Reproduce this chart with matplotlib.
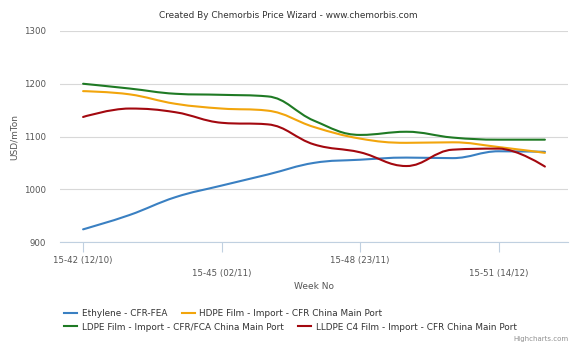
import matplotlib
matplotlib.use('Agg')
import matplotlib.pyplot as plt
from matplotlib.lines import Line2D
from matplotlib.path import Path
from matplotlib.patches import PathPatch

weeks = ['15-42 (12/10)', '15-43 (19/10)', '15-44 (26/10)', '15-45 (02/11)',
         '15-46 (09/11)', '15-47 (16/11)', '15-48 (23/11)', '15-49 (30/11)',
         '15-50 (07/12)', '15-51 (14/12)', '15-52 (21/12)']

ethylene = [924, 951, 985, 1007, 1028, 1050, 1056, 1060, 1059, 1072, 1071]
hdpe = [1186, 1180, 1162, 1153, 1149, 1118, 1096, 1088, 1089, 1080, 1069]
ldpe = [1200, 1191, 1181, 1179, 1176, 1130, 1103, 1109, 1098, 1094, 1094]
lldpe = [1137, 1153, 1146, 1126, 1123, 1085, 1070, 1044, 1075, 1077, 1043]

series_names = ['Ethylene - CFR-FEA',
                'HDPE Film - Import - CFR China Main Port',
                'LDPE Film - Import - CFR/FCA China Main Port',
                'LLDPE C4 Film - Import - CFR China Main Port']
colors = ['#3a80c2', '#f2a50c', '#1f7a24', '#a3080f']


def spline_path(xs, ys, smoothing=1.5):
    # same control point rule as a highcharts spline
    n = len(xs)
    left = [None] * n
    right = [None] * n
    denom = smoothing + 1
    for i in range(1, n - 1):
        px, py = xs[i], ys[i]
        lx, ly = xs[i - 1], ys[i - 1]
        nx, ny = xs[i + 1], ys[i + 1]
        lcx = (smoothing * px + lx) / denom
        lcy = (smoothing * py + ly) / denom
        rcx = (smoothing * px + nx) / denom
        rcy = (smoothing * py + ny) / denom
        corr = (rcy - lcy) * (rcx - px) / (rcx - lcx) + py - rcy
        lcy += corr
        rcy += corr
        if lcy > ly and lcy > py:
            lcy = max(ly, py)
            rcy = 2 * py - lcy
        elif lcy < ly and lcy < py:
            lcy = min(ly, py)
            rcy = 2 * py - lcy
        if rcy > ny and rcy > py:
            rcy = max(ny, py)
            lcy = 2 * py - rcy
        elif rcy < ny and rcy < py:
            rcy = min(ny, py)
            lcy = 2 * py - rcy
        left[i] = (lcx, lcy)
        right[i] = (rcx, rcy)
    verts = [(xs[0], ys[0])]
    codes = [Path.MOVETO]
    for i in range(1, n):
        c1 = right[i - 1] if right[i - 1] else (xs[i - 1], ys[i - 1])
        c2 = left[i] if left[i] else (xs[i], ys[i])
        verts += [c1, c2, (xs[i], ys[i])]
        codes += [Path.CURVE4] * 3
    return Path(verts, codes)


fig = plt.figure(figsize=(5.76, 3.45), dpi=100)
ax = fig.add_axes([60 / 576, 103 / 345, 508 / 576, 211 / 345])

x = list(range(len(weeks)))
for vals, c in zip([ethylene, hdpe, ldpe, lldpe], colors):
    ax.add_patch(PathPatch(spline_path(x, vals), fill=False, edgecolor=c,
                           lw=1.5, capstyle='round', joinstyle='round', zorder=3))

ax.set_xlim(-0.5, len(weeks) - 0.5)
ax.set_ylim(900, 1300)
ax.set_yticks([900, 1000, 1100, 1200, 1300])
ax.grid(axis='y', color='#d8d8d8', lw=0.8)
ax.set_axisbelow(True)
for s in ['top', 'right', 'left']:
    ax.spines[s].set_visible(False)
ax.spines['bottom'].set_color('#c0d0e0')

ticks = [0, 3, 6, 9]
ax.set_xticks(ticks)
ax.set_xticklabels([weeks[i] for i in ticks])
ax.tick_params(axis='x', length=7, color='#c0d0e0', labelsize=6.2,
               labelcolor='#555555', pad=3)
ax.tick_params(axis='y', length=0, labelsize=6.2, labelcolor='#555555', pad=10)
for k, lab in enumerate(ax.get_xticklabels()):
    if k % 2 == 1:
        lab.set_y(-0.062)

ax.set_xlabel('Week No', fontsize=6.5, color='#555555', labelpad=3)
ax.set_ylabel('USD/mTon', fontsize=6.5, color='#555555', labelpad=4)

fig.text(0.5, 1 - 15 / 345, 'Created By Chemorbis Price Wizard - www.chemorbis.com',
         ha='center', va='center', fontsize=6.4, color='#333333')

handles = [Line2D([], [], color=c, lw=1.5) for c in colors]
leg_kw = dict(frameon=False, fontsize=6.4, handlelength=1.5, handletextpad=0.5,
              borderaxespad=0, borderpad=0, labelcolor='#333333')
leg1 = fig.legend(handles[:2], series_names[:2], ncol=2, loc='center left',
                  bbox_to_anchor=(64 / 576, 1 - 314 / 345), columnspacing=1.6, **leg_kw)
leg2 = fig.legend(handles[2:], series_names[2:], ncol=2, loc='center left',
                  bbox_to_anchor=(64 / 576, 1 - 327 / 345), columnspacing=1.6, **leg_kw)

fig.text(1 - 8 / 576, 1 - 339 / 345, 'Highcharts.com', ha='right', va='center',
         fontsize=5, color='#909090')

fig.savefig('out.png', dpi=100)
